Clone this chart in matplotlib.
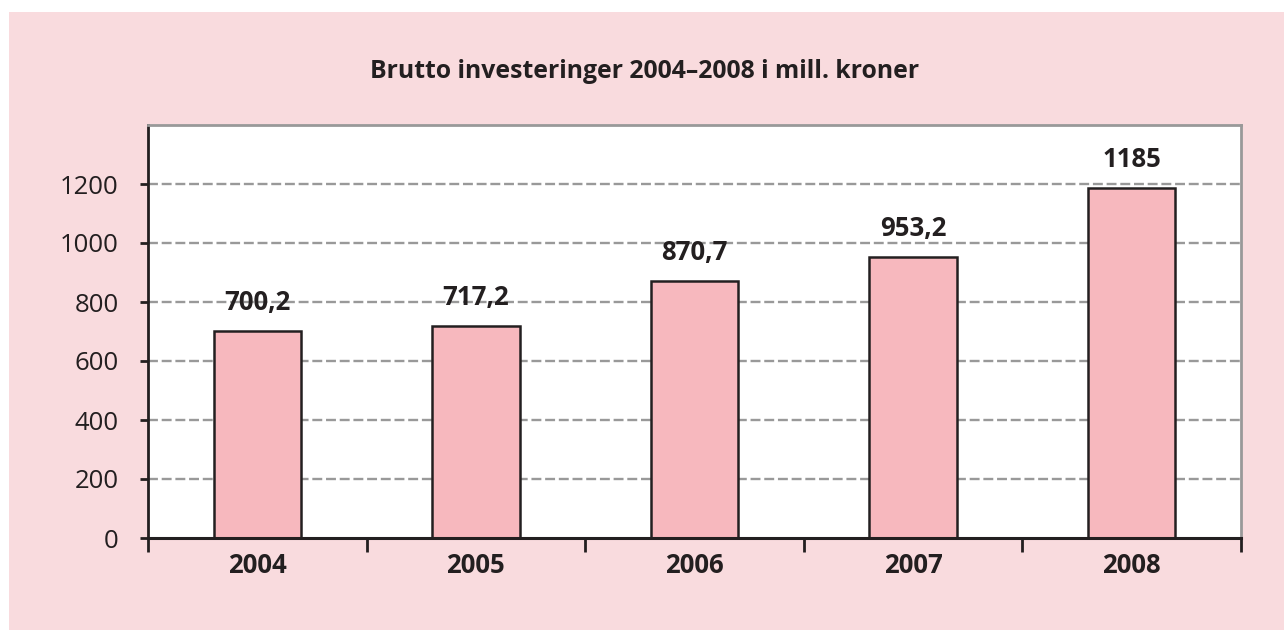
import matplotlib
matplotlib.use("Agg")
import matplotlib.pyplot as plt
from matplotlib.patches import Rectangle
import numpy as np

years = ["2004", "2005", "2006", "2007", "2008"]
values = [700.2, 717.2, 870.7, 953.2, 1185]
value_labels = ["700,2", "717,2", "870,7", "953,2", "1185"]
yticks = [0, 200, 400, 600, 800, 1000, 1200]
title = "Brutto investeringer 2004\u20132008 i mill. kroner"

plt.rcParams['font.family'] = ['Open Sans', 'DejaVu Sans']
TXT = '#231F20'
PINK_BG = '#F9DBDE'
BAR = '#F7B8BE'
GRID = '#999999'

W, H = 1284, 630
fig = plt.figure(figsize=(W / 100, H / 100), dpi=100)
fig.patch.set_facecolor('white')
fig.patches.append(Rectangle((9 / W, 0), 1 - 9 / W, (H - 12) / H,
                             transform=fig.transFigure, facecolor=PINK_BG,
                             edgecolor='none', zorder=-10))

ax = fig.add_axes([148 / W, 1 - 538 / H, (1241 - 148) / W, (538 - 125) / H])
ax.set_facecolor('white')

x = np.arange(len(years))
ax.bar(x, values, width=0.4, color=BAR, edgecolor=TXT, linewidth=1.8, zorder=3)
for xi, v, lab in zip(x, values, value_labels):
    ax.annotate(lab, (xi, v), xytext=(0, 11), textcoords='offset points',
                ha='center', va='bottom', fontsize=18.5, fontweight='bold', color=TXT, zorder=4)

ax.set_xlim(-0.5, len(years) - 0.5)
ax.set_ylim(0, 1400)
ax.set_yticks(yticks)
ax.set_yticklabels([str(t) for t in yticks])
ax.set_xticks(x)
ax.set_xticklabels(years, fontweight='bold')
ax.set_xticks(np.arange(len(years) + 1) - 0.5, minor=True)

ax.tick_params(axis='y', direction='out', length=6, width=2, color=TXT,
               labelsize=18.5, labelcolor=TXT, pad=15)
ax.tick_params(axis='x', which='major', length=0, labelsize=18.5, labelcolor=TXT, pad=10)
ax.tick_params(axis='x', which='minor', direction='out', length=10, width=2, color=TXT)

for yv in range(200, 1400, 200):
    ax.axhline(yv, color=GRID, linewidth=1.7, linestyle=(0, (4.2, 1.6)), zorder=1)

ax.spines['left'].set_color(TXT)
ax.spines['left'].set_linewidth(2)
ax.spines['bottom'].set_color(TXT)
ax.spines['bottom'].set_linewidth(2.2)
ax.spines['top'].set_color(GRID)
ax.spines['top'].set_linewidth(2)
ax.spines['right'].set_color(GRID)
ax.spines['right'].set_linewidth(2)
ax.spines['bottom'].set_zorder(5)

fig.text(645 / W, 1 - 72 / H, title, ha='center', va='center',
         fontsize=17.8, fontweight='bold', color=TXT)

fig.savefig('out.png', dpi=100, facecolor=fig.get_facecolor())
